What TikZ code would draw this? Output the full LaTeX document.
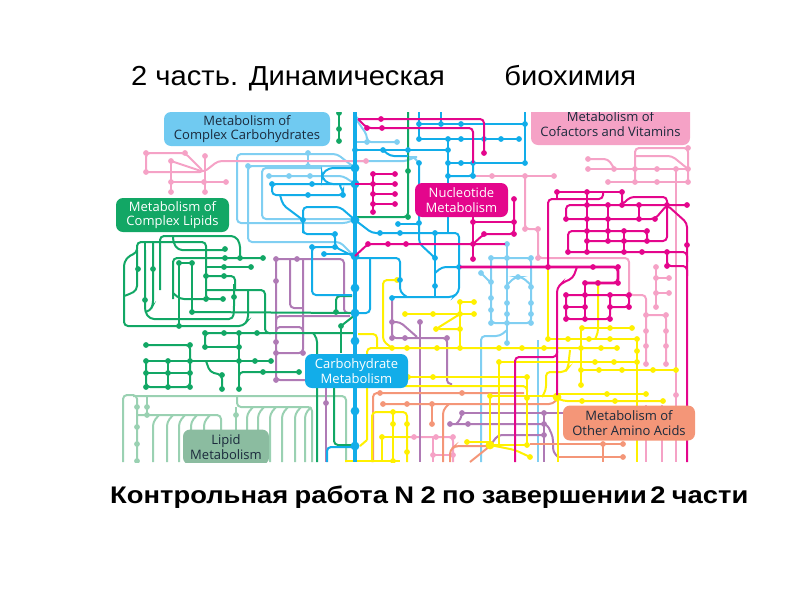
\documentclass[tikz,border=0pt]{standalone}
\usepackage{fontspec}
\setmainfont{Liberation Sans}
\newfontfamily\mapfont{Open Sans}
\definecolor{cblue}{HTML}{12ADE9}
\definecolor{cpale}{HTML}{80CFF2}
\definecolor{cgreen}{HTML}{12A765}
\definecolor{cmint}{HTML}{9AD1B2}
\definecolor{cmag}{HTML}{E4068C}
\definecolor{cpink}{HTML}{F5A2C6}
\definecolor{cpurp}{HTML}{AF7AB5}
\definecolor{cyel}{HTML}{FFF000}
\definecolor{csalm}{HTML}{F49678}
\definecolor{navy}{HTML}{1B2A3C}
\newcommand{\stops}[2]{\foreach \p in {#2} \fill[#1] \p circle (2.9pt);}
\newcommand{\hubs}[2]{\foreach \p in {#2} \fill[#1] \p circle (4.4pt);}
\begin{document}
\begin{tikzpicture}[
    x=1pt, y=-1pt,
    every node/.style={inner sep=0pt},
    net/.style={line width=2pt, rounded corners=4pt},
    bl/.style={net, draw=cblue},
    pb/.style={net, draw=cpale},
    gr/.style={net, draw=cgreen},
    mt/.style={net, draw=cmint},
    mg/.style={net, draw=cmag},
    pk/.style={net, draw=cpink},
    pu/.style={net, draw=cpurp},
    ye/.style={net, draw=cyel},
    sa/.style={net, draw=csalm},
    area/.style={rounded corners=7pt, align=center, font=\mapfont\fontsize{13}{14.6}\selectfont},
]
\useasboundingbox (0,0) rectangle (800,600);
\node[anchor=base west, xscale=1.06, transform shape, font=\fontsize{27.5}{30}\selectfont] (title) at (131,85) {2 часть. Динамическая\hspace{56pt}биохимия};
\node[anchor=base west, xscale=1.14, transform shape, font=\bfseries\fontsize{24}{28}\selectfont] (note) at (110,503) {\spaceskip=5.6pt Контрольная работа N 2 по завершении\hspace{3pt}2 части};
\begin{scope}
\clip (113,112) rectangle (696,462);
% lipid combs
\draw[mt] (123,462) -- (123,395) -- (137,395) -- (137,462);
\draw[mt] (133,396) -- (346,396) -- (346,462);
\draw[mt] (147,397) -- (147,415);
\draw[mt] (138,415) -- (221,415) -- (221,432);
\foreach \t in {153,167,179,191,204} \draw[mt] (\t,462) -- (\t,422) -- (\t+6,415);
\draw[mt] (237,396) -- (237,407) -- (312,407) -- (312,462);
\foreach \t in {247,258,270,282,295,305} \draw[mt] (\t,462) -- (\t,414) -- (\t+6,407);
\draw[mt] (236,407) -- (236,430);
\stops{cmint}{(137,407),(137,427),(137,444),(137,461),(147,407),(147,415),(236,415)}
% pale blue
\draw[pb] (355,219) -- (347,223) -- (237,223) -- (237,154) -- (337,154) -- (355,168);
\draw[pb] (355,257) -- (340,242) -- (248,242) -- (248,166) -- (355,166);
\draw[pb] (355,219) -- (262,219) -- (262,168) -- (322,168);
\draw[pb] (269,176) -- (343,176) -- (355,184);
\draw[pb] (308,153) -- (308,166);
\draw[pb] (355,112) -- (355,150);
\draw[pb] (356,119) -- (367,135) -- (367,142) -- (397,142);
\draw[pb] (355,142) -- (367,142);
\draw[pb] (355,161) -- (408,161) -- (413,157) -- (415,157) -- (419,165);
\stops{cpale}{(308,153),(308,166),(248,166),(269,176),(289,176),(310,176),(356,119),(367,142),(397,142)}
\draw[pb] (507,244) -- (507,343);
\draw[pb] (491,258) -- (531,258) -- (531,323) -- (491,323) -- (491,258);
\draw[pb] (481,273) -- (491,283);
\draw[pb] (507,285) -- (515,277) -- (522,277) -- (531,285);
\draw[pb] (507,330) -- (500,336) -- (481,336) -- (481,462);
\draw[pb] (538,340) -- (538,462);
\stops{cpale}{(507,244),(507,258),(491,258),(531,258),(481,273),(518,277),(491,282),(491,298),(491,310),(491,323),(507,287),(507,303),(507,314),(507,323),(507,343),(531,287),(531,303),(531,314),(531,323)}
% pink
\draw[pk] (146,172) -- (146,153) -- (185,153) -- (204,172) -- (146,172);
\draw[pk] (171,161) -- (204,172) -- (218,161) -- (366,161);
\draw[pk] (171,161) -- (171,192);
\draw[pk] (171,182) -- (226,182);
\draw[pk] (205,156) -- (205,192);
\stops{cpink}{(146,153),(185,153),(146,172),(171,161),(171,182),(171,192),(204,182),(226,182),(205,156),(205,192),(366,161)}
\draw[pk] (473,176) -- (554,176);
\draw[pk] (525,176) -- (525,229) -- (538,229) -- (538,258) -- (629,258) -- (629,295) -- (646,295) -- (646,364);
\draw[pk] (646,315) -- (666,315) -- (666,364);
\draw[pk] (588,159) -- (608,159) -- (614,168);
\draw[pk] (588,169) -- (688,169);
\draw[pk] (608,182) -- (688,182);
\draw[pk] (635,182) -- (635,148) -- (688,148) -- (688,182);
\draw[pk] (635,156) -- (672,156) -- (688,169);
\draw[pk] (676,169) -- (676,462);
\draw[pk] (656,267) -- (656,307);
\draw[pk] (656,278) -- (669,278);
\draw[pk] (656,293) -- (669,293);
\draw[pk] (646,405) -- (646,462);
\draw[pk] (662,405) -- (662,462);
\draw[pk] (400,437) -- (453,437) -- (453,462);
\draw[pk] (433,462) -- (433,437);
\draw[pk] (433,455) -- (453,455);
\stops{cpink}{(492,176),(525,176),(554,176),(525,229),(538,229),(538,258),(588,159),(588,169),(614,169),(635,169),(657,169),(676,169),(688,169),(608,182),(635,182),(657,182),(688,182),(688,148),(656,267),(656,278),(669,278),(656,293),(669,293),(656,307),(646,315),(666,315),(646,331),(666,331),(646,346),(666,346),(646,364),(666,364),(676,395),(414,437),(436,437),(453,437),(433,455),(453,455)}
% purple
\draw[pu] (276,259) -- (344,259) -- (344,313) -- (352,313);
\draw[pu] (276,259) -- (276,380) -- (305,380);
\draw[pu] (290,259) -- (290,308) -- (303,308);
\draw[pu] (303,259) -- (303,353) -- (276,353);
\draw[pu] (276,322) -- (276,316) -- (350,316);
\draw[pu] (276,333) -- (276,327) -- (303,327) -- (303,336);
\draw[pu] (326,388) -- (326,462);
\draw[pu] (392,298) -- (392,338) -- (447,338) -- (447,384) -- (452,384);
\draw[pu] (392,322) -- (400,322) -- (417,337);
\draw[pu] (420,322) -- (420,462);
\draw[pu] (462,413) -- (563,413);
\draw[pu] (462,413) -- (461,419) -- (456,424);
\draw[pu] (450,424) -- (547,424) -- (553,437) -- (553,452) -- (558,457);
\draw[pu] (492,443) -- (498,435) -- (544,435);
\draw[pu] (544,413) -- (544,462);
\stops{cpurp}{(276,259),(297,259),(276,281),(276,342),(276,353),(276,380),(303,353),(326,403),(392,322),(392,338),(405,338),(420,322),(447,338),(462,413),(544,413),(450,424),(468,424),(544,424),(544,435)}
% salmon
\draw[sa] (373,462) -- (373,393) -- (524,393);
\draw[sa] (383,404) -- (553,404) -- (558,398);
\draw[sa,line width=2.6pt] (432,404) -- (432,424);
\draw[sa] (449,404) -- (443,410) -- (443,462);
\draw[sa] (530,444) -- (623,444);
\draw[sa] (557,457) -- (623,457);
\draw[sa] (603,444) -- (603,462);
\draw[sa] (450,462) -- (450,450) -- (455,446) -- (490,446) -- (470,462);
\stops{csalm}{(380,393),(462,393),(383,404),(407,404),(432,404),(432,424),(603,444),(623,444),(623,457)}
% yellow
\draw[ye] (397,280) -- (383,280) -- (383,341) -- (392,348);
\draw[ye] (367,440) -- (367,348) -- (617,348);
\draw[ye] (367,440) -- (360,446);
\draw[ye] (358,334) -- (377,334) -- (377,348);
\draw[ye] (372,462) -- (372,412) -- (407,412) -- (407,462);
\draw[ye] (382,437) -- (382,462);
\draw[ye] (393,412) -- (393,462);
\draw[ye] (382,437) -- (410,437);
\draw[ye] (345,461) -- (400,461);
\draw[ye] (460,302) -- (460,348);
\draw[ye] (460,302) -- (474,302);
\draw[ye] (405,314) -- (474,314);
\draw[ye] (460,314) -- (436,329) -- (460,329);
\draw[ye,line width=2.6pt] (548,267) -- (548,339);
\draw[ye] (548,339) -- (637,339);
\draw[ye] (598,283) -- (598,333) -- (595,339);
\draw[ye] (582,328) -- (632,328);
\draw[ye] (581,328) -- (581,385);
\draw[ye] (581,370) -- (676,370);
\draw[ye] (499,362) -- (637,362);
\draw[ye] (637,339) -- (637,462);
\draw[ye] (499,362) -- (499,445);
\draw[ye] (570,350) -- (568,368) -- (565,372) -- (546,372) -- (546,390) -- (542,397);
\draw[ye] (490,396) -- (557,396);
\draw[ye] (557,394) -- (646,394);
\draw[ye] (557,398) -- (563,401) -- (663,401);
\draw[ye] (408,377) -- (527,377);
\draw[ye] (400,386) -- (527,386) -- (527,392);
\draw[ye] (527,377) -- (527,445);
\draw[ye] (490,396) -- (490,445);
\draw[ye] (558,397) -- (558,462);
\draw[ye] (467,442) -- (490,442);
\draw[ye] (490,445) -- (527,445);
\draw[ye] (490,445) -- (515,450) -- (530,457);
\stops{cyel}{(392,348),(407,348),(437,348),(460,348),(499,348),(522,348),(544,348),(581,348),(601,348),(617,348),(460,302),(474,302),(405,314),(433,314),(460,314),(474,314),(436,329),(460,329),(548,339),(568,339),(589,339),(610,339),(637,339),(637,351),(582,328),(610,328),(632,328),(598,283),(581,370),(599,370),(622,370),(653,370),(676,370),(581,385),(499,362),(595,362),(614,362),(637,362),(607,394),(646,394),(582,401),(615,401),(663,401),(408,377),(433,377),(527,377),(527,398),(490,396),(527,445),(467,442),(530,457),(382,437),(393,412),(393,424),(393,461),(407,424),(407,452),(397,280)}
\hubs{cyel}{(557,397),(490,445)}
% green
\draw[gr,line width=2.6pt] (339,113) -- (339,141);
\stops{cgreen}{(339,113),(339,129),(339,141)}
\draw[gr] (408,112) -- (408,217) -- (355,217);
\stops{cgreen}{(408,171),(408,217)}
\draw[gr] (124,320) -- (124,262) -- (130,255) -- (137,253) -- (137,242) -- (206,242) -- (206,299) -- (223,299);
\draw[gr] (124,320) -- (124,326) -- (243,326) -- (248,320) -- (248,290);
\draw[gr] (137,250) -- (137,290) -- (130,294) -- (124,296);
\draw[gr] (145,290) -- (145,242);
\draw[gr] (145,250) -- (145,312) -- (150,319) -- (233,319) -- (234,310) -- (234,284);
\draw[gr] (153,242) -- (153,305) -- (150,311) -- (145,312);
\draw[gr] (160,290) -- (160,236) -- (235,236) -- (240,243) -- (240,258);
\draw[gr] (173,236) -- (173,242) -- (178,250) -- (225,250);
\draw[gr] (173,299) -- (173,258) -- (263,258);
\draw[gr] (173,293) -- (180,299) -- (206,299);
\draw[gr] (179,263) -- (179,326);
\draw[gr] (192,263) -- (192,312);
\draw[gr] (179,263) -- (192,263);
\draw[gr] (206,267) -- (251,267);
\draw[gr] (206,276) -- (235,276) -- (235,290);
\draw[gr] (206,290) -- (265,290) -- (265,333) -- (271,333);
\draw[gr] (192,312) -- (352,313);
\draw[gr] (336,312) -- (336,296) -- (352,296);
\draw[gr] (341,326) -- (355,315);
\draw[gr] (341,326) -- (341,353);
\draw[gr] (205,347) -- (205,333) -- (355,333);
\draw[gr] (313,333) -- (317,338) -- (317,462);
\draw[gr] (334,388) -- (334,445) -- (355,445);
\draw[gr] (239,333) -- (239,389);
\draw[gr] (205,347) -- (239,347);
\draw[gr] (146,345) -- (190,345) -- (190,387) -- (146,387) -- (146,361);
\draw[gr] (146,361) -- (271,361);
\draw[gr] (146,373) -- (190,373);
\draw[gr] (168,361) -- (168,387);
\draw[gr] (206,361) -- (210,372) -- (222,375) -- (222,389);
\draw[gr] (239,380) -- (239,372) -- (299,372);
\stops{cgreen}{(138,269),(153,269),(179,263),(192,263),(225,249),(225,258),(240,258),(263,258),(224,267),(251,267),(206,276),(224,276),(206,299),(223,299),(234,297),(145,300),(179,326),(192,312),(336,312),(341,326),(205,333),(224,333),(239,333),(257,333),(205,347),(239,347),(146,345),(190,345),(146,361),(168,361),(190,361),(239,361),(255,361),(271,361),(146,373),(168,373),(190,373),(146,387),(168,387),(190,387),(222,375),(222,389),(239,389),(263,372),(299,372)}
% blue
\draw[bl] (355,168) -- (329,168) -- (322,174) -- (322,178) -- (329,184) -- (355,184);
\draw[bl] (355,184) -- (338,184) -- (343,190) -- (343,195) -- (272,195) -- (272,184) -- (338,184);
\draw[bl] (280,195) -- (283,205) -- (303,220);
\draw[bl] (303,233) -- (303,207) -- (340,207) -- (355,220);
\draw[bl] (303,225) -- (303,234) -- (335,234) -- (335,247) -- (355,257);
\draw[bl] (335,247) -- (312,247) -- (312,295) -- (352,295);
\draw[bl] (324,254) -- (355,254);
\draw[bl] (355,220) -- (372,233) -- (459,233) -- (459,292) -- (453,297) -- (392,297);
\draw[bl] (398,224) -- (419,224);
\draw[bl] (355,258) -- (400,258) -- (400,292) -- (407,297);
\draw[bl] (370,258) -- (370,313) -- (355,313);
\draw[bl] (355,150) -- (448,150);
\draw[bl] (383,150) -- (390,156) -- (408,156);
\draw[bl] (419,112) -- (419,139);
\draw[bl] (441,112) -- (441,124);
\draw[bl] (419,124) -- (525,124);
\draw[bl] (525,112) -- (525,163);
\draw[bl] (419,139) -- (519,139);
\draw[bl] (448,139) -- (448,233);
\draw[bl] (448,163) -- (525,163);
\draw[bl] (448,176) -- (473,176) -- (473,163);
\draw[bl] (419,165) -- (419,243) -- (435,258);
\draw[bl] (435,233) -- (435,297);
\draw[bl] (459,267) -- (442,267) -- (435,273);
\draw[bl] (327,462) -- (327,447) -- (355,447);
\stops{cblue}{(272,184),(312,184),(343,195),(308,195),(303,220),(335,234),(335,247),(312,247),(324,254),(380,233),(400,233),(398,224),(400,280),(392,298),(383,150),(355,150),(419,124),(419,139),(441,124),(461,124),(525,124),(525,163),(448,139),(461,139),(484,139),(501,139),(519,139),(408,150),(448,150),(419,163),(448,163),(461,163),(473,163),(448,176),(473,176),(419,223),(435,233),(435,258),(435,286),(459,267)}
\draw[cblue,line width=3.6pt] (355,112) -- (355,462);
\hubs{cblue}{(355,168),(355,184),(355,220),(355,256),(355,288),(355,313),(355,341),(355,411),(355,446)}
% magenta
\draw[mg] (358,119) -- (484,119) -- (484,153);
\draw[mg] (358,119) -- (367,128) -- (473,128) -- (473,163);
\draw[mg] (373,174) -- (373,212);
\draw[mg] (373,174) -- (395,174);
\draw[mg] (355,184) -- (395,184);
\draw[mg] (373,194) -- (395,194);
\draw[mg] (373,204) -- (395,204);
\draw[mg] (355,256) -- (368,244) -- (505,244);
\draw[mg] (473,217) -- (473,259);
\draw[mg] (473,222) -- (514,222);
\draw[mg] (514,199) -- (514,234) -- (484,234) -- (473,244);
\draw[mg,line width=2.8pt] (460,267) -- (618,267) -- (618,283) -- (585,283);
\draw[mg] (577,267) -- (573,278) -- (562,283) -- (557,288) -- (557,395);
\draw[mg] (557,192) -- (622,192);
\draw[mg] (557,192) -- (557,199);
\draw[mg] (603,192) -- (603,199) -- (548,199) -- (548,267);
\draw[mg] (566,219) -- (566,205) -- (687,205);
\draw[mg] (622,192) -- (622,205) -- (630,197) -- (667,197) -- (667,241) -- (587,241);
\draw[mg] (566,219) -- (655,219) -- (667,205) -- (687,223) -- (687,462);
\draw[mg] (587,192) -- (587,252);
\draw[mg] (608,205) -- (608,241);
\draw[mg] (639,205) -- (639,219);
\draw[mg] (568,252) -- (568,231) -- (647,231) -- (647,241);
\draw[mg] (624,231) -- (624,252);
\draw[mg] (568,252) -- (687,252) -- (687,262);
\draw[mg] (667,252) -- (667,266) -- (687,266) -- (687,276);
\draw[mg] (515,462) -- (515,357) -- (557,357) -- (557,351);
\draw[mg] (585,283) -- (585,319);
\draw[mg] (566,295) -- (629,295) -- (629,307) -- (610,307);
\draw[mg] (566,295) -- (566,319) -- (610,319) -- (610,295);
\draw[mg] (566,307) -- (585,307);
\stops{cmag}{(381,119),(367,128),(382,128),(484,153),(373,174),(395,174),(373,184),(395,184),(373,194),(395,194),(373,204),(395,204),(373,212),(368,244),(388,244),(406,244),(473,222),(473,244),(473,259),(514,199),(514,222),(514,234),(484,234),(548,267),(593,267),(618,267),(618,283),(585,283),(598,283),(557,192),(587,192),(622,192),(587,205),(608,205),(622,205),(639,205),(667,205),(687,205),(566,219),(587,219),(608,219),(639,219),(655,219),(587,231),(608,231),(624,231),(647,231),(587,241),(608,241),(624,241),(647,241),(568,252),(587,252),(624,252),(642,252),(667,252),(667,266),(687,245),(566,295),(585,295),(610,295),(629,295),(566,307),(585,307),(610,307),(629,307),(566,319),(585,319),(610,319)}
% area labels
\node[area, fill=cpale!85!cblue, text=navy, minimum width=166pt, minimum height=34pt] (carbs) at (247,129) {Metabolism of\\Complex Carbohydrates};
\node[area, fill=cgreen, text=white, minimum width=113pt, minimum height=34pt] (lipids) at (172.5,215) {Metabolism of\\Complex Lipids};
\node[area, fill=cmag, text=white, minimum width=93pt, minimum height=34pt] (nucleo) at (461.5,200) {Nucleotide\\Metabolism};
\node[area, fill=cpink, text=navy, minimum width=159pt, minimum height=42pt] (cofact) at (610.5,124) {Metabolism of\\Cofactors and Vitamins};
\node[area, fill=cblue, text=white, minimum width=103pt, minimum height=34pt] (carbo) at (356.5,371) {Carbohydrate\\Metabolism};
\node[area, fill=csalm, text=navy, minimum width=132pt, minimum height=35pt] (amino) at (629,423) {Metabolism of\\Other Amino Acids};
\node[area, fill=cmint!90!black, text=navy, minimum width=86pt, minimum height=35pt] (lipid) at (226,447) {Lipid\\Metabolism};
\end{scope}
\end{tikzpicture}
\end{document}
